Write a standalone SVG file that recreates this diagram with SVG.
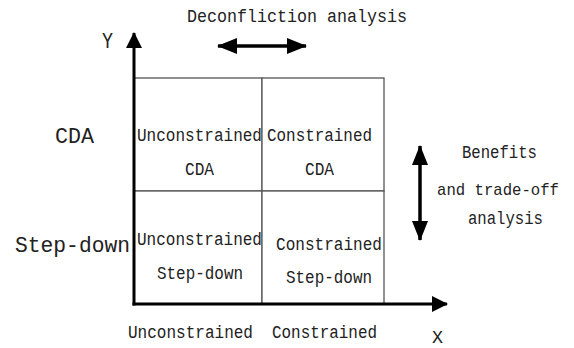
<svg xmlns="http://www.w3.org/2000/svg" width="574" height="348" viewBox="0 0 574 348">
<style>
text{font-family:"Liberation Mono","DejaVu Sans Mono",monospace;fill:#222;}
.q{font-size:18px;}
.big{font-size:22px;}
.cell{fill:#fff;stroke:#555;stroke-width:1.3;}
.axis{stroke:#000;stroke-width:3;fill:none;}
.arr{stroke:#000;stroke-width:3.5;fill:none;}
</style>
<defs>
<marker id="ah" viewBox="0 0 16 16" markerWidth="16" markerHeight="16" refX="15" refY="8" orient="auto-start-reverse" markerUnits="userSpaceOnUse">
<path d="M0,0 L16,8 L0,16 z" fill="#000"/>
</marker>
<marker id="ah2" viewBox="0 0 20 16" markerWidth="20" markerHeight="16" refX="19" refY="8" orient="auto-start-reverse" markerUnits="userSpaceOnUse">
<path d="M0,0 L20,8 L0,16 z" fill="#000"/>
</marker>
</defs>

<g id="q-uncon-cda">
<rect class="cell" x="134" y="78" width="128" height="113"/>
<text class="q" x="137" y="141" textLength="125" lengthAdjust="spacingAndGlyphs">Unconstrained</text>
<text class="q" x="185" y="175" textLength="29" lengthAdjust="spacingAndGlyphs">CDA</text>
</g>
<g id="q-con-cda">
<rect class="cell" x="262" y="78" width="122" height="113"/>
<text class="q" x="267" y="141" textLength="105" lengthAdjust="spacingAndGlyphs">Constrained</text>
<text class="q" x="305" y="175" textLength="29" lengthAdjust="spacingAndGlyphs">CDA</text>
</g>
<g id="q-uncon-step">
<rect class="cell" x="134" y="191" width="128" height="113"/>
<text class="q" x="137" y="245" textLength="125" lengthAdjust="spacingAndGlyphs">Unconstrained</text>
<text class="q" x="157" y="279" textLength="86" lengthAdjust="spacingAndGlyphs">Step-down</text>
</g>
<g id="q-con-step">
<rect class="cell" x="262" y="191" width="122" height="113"/>
<text class="q" x="276" y="250" textLength="106" lengthAdjust="spacingAndGlyphs">Constrained</text>
<text class="q" x="286" y="283" textLength="86" lengthAdjust="spacingAndGlyphs">Step-down</text>
</g>

<g id="labels">
<text class="q" x="187" y="22" textLength="220" lengthAdjust="spacingAndGlyphs">Deconfliction  analysis</text>
<text x="102" y="48" font-size="22" textLength="11" lengthAdjust="spacingAndGlyphs">Y</text>
<text class="big" x="55" y="143" textLength="39" lengthAdjust="spacingAndGlyphs">CDA</text>
<text class="big" x="15" y="252" textLength="115" lengthAdjust="spacingAndGlyphs">Step-down</text>
<text class="q" x="462" y="158" textLength="75" lengthAdjust="spacingAndGlyphs">Benefits</text>
<text x="437" y="195" font-size="17" textLength="122" lengthAdjust="spacingAndGlyphs">and trade-off</text>
<text class="q" x="468" y="224" textLength="75" lengthAdjust="spacingAndGlyphs">analysis</text>
<text class="q" x="128" y="338" textLength="125" lengthAdjust="spacingAndGlyphs">Unconstrained</text>
<text class="q" x="272" y="338" textLength="105" lengthAdjust="spacingAndGlyphs">Constrained</text>
<text x="432" y="343" font-size="18" textLength="11" lengthAdjust="spacingAndGlyphs">X</text>
</g>

<g id="connectors">
<line class="axis" x1="134" y1="305.5" x2="134" y2="33" marker-end="url(#ah)"/>
<line class="axis" x1="132.5" y1="304" x2="447" y2="304" marker-end="url(#ah)"/>
<line class="arr" x1="218" y1="46" x2="306" y2="46" marker-start="url(#ah2)" marker-end="url(#ah2)"/>
<line class="arr" x1="420" y1="146" x2="420" y2="240" marker-start="url(#ah2)" marker-end="url(#ah2)"/>
</g>
</svg>
